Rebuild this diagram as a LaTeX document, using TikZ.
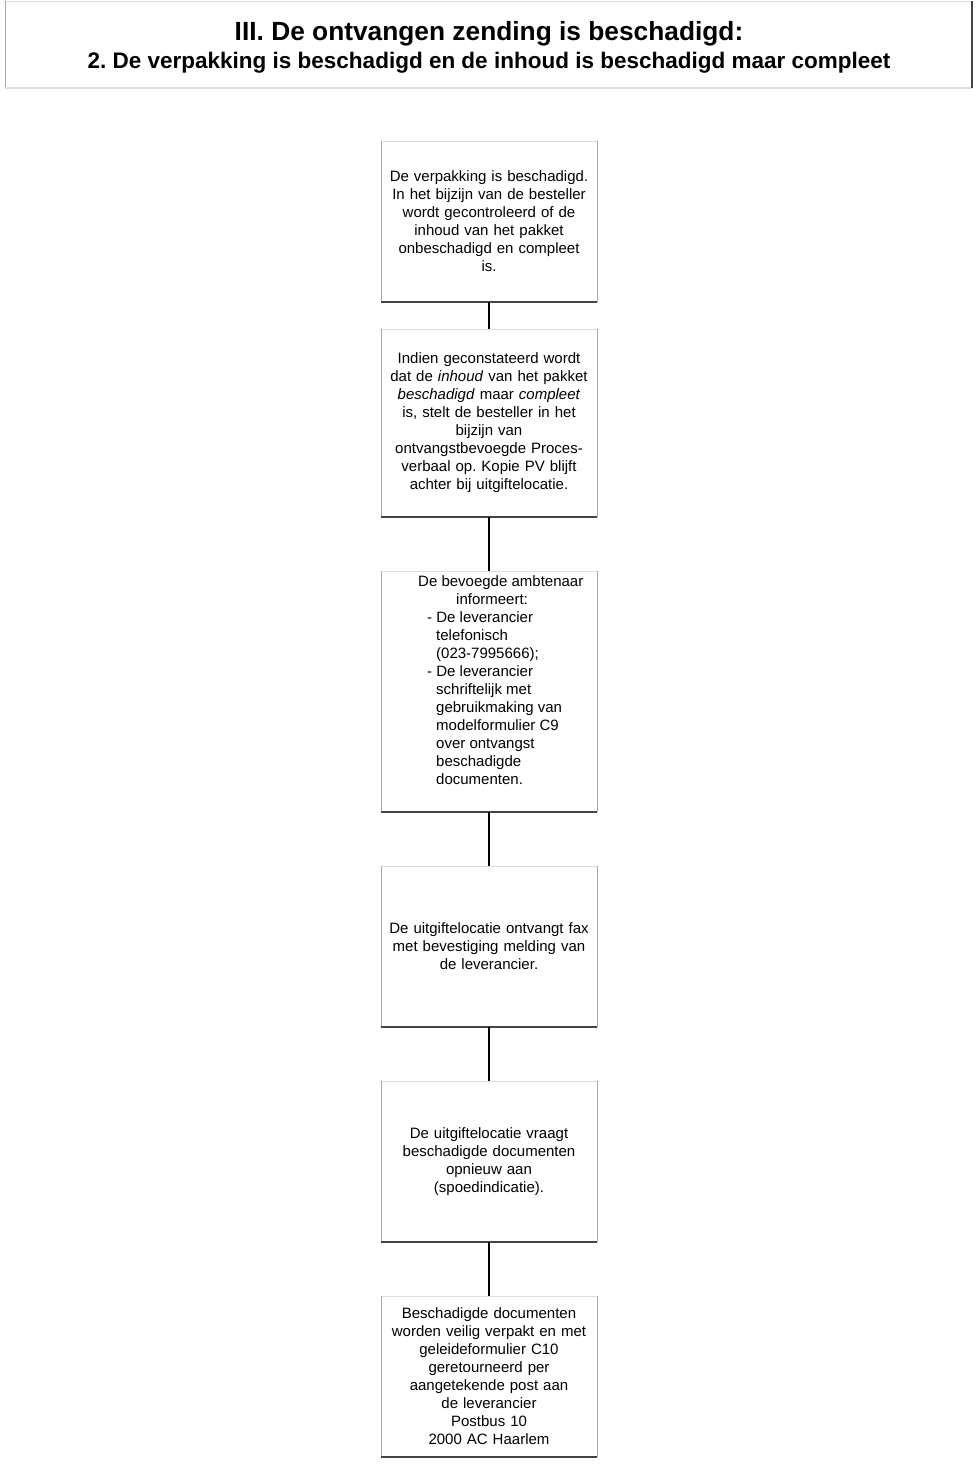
\documentclass[tikz,border=0pt]{standalone}
\usepackage{fontspec}
\setmainfont{Liberation Sans}
\frenchspacing
\definecolor{edgetop}{HTML}{DDDDDD}
\definecolor{edgeside}{HTML}{A8A8A8}
\definecolor{edgebot}{HTML}{444444}
\begin{document}
\begin{tikzpicture}[x=1pt,y=-1pt,
  stepbox/.style={draw=none,minimum width=216pt,inner sep=0pt,outer sep=0pt,
    font=\fontsize{15}{18}\selectfont,align=center,text width=212pt},
  link/.style={draw=black,line width=1.6pt}]
\useasboundingbox (0,0) rectangle (978,1467);
\fill[white] (0,0) rectangle (978,1467);
% header
\node[minimum width=967pt,minimum height=87pt,inner sep=0pt,outer sep=0pt] (head) at (488.5,44.5) {};
\draw[edgetop,line width=1pt] (head.north west) -- (head.north east);
\draw[edgeside,line width=1pt] (head.north west) -- (head.south west);
\draw[edgetop,line width=1.2pt] (head.south west) -- (head.south east);
\draw[edgebot,line width=1.4pt] (head.north east) -- (head.south east);
\node[font=\bfseries\fontsize{26.3}{28}\selectfont,inner sep=0pt] (t1) at (489,34) {III. De ontvangen zending is beschadigd:};
\node[font=\bfseries\fontsize{22.5}{24}\selectfont,inner sep=0pt] (t2) at (489,63) {2. De verpakking is beschadigd en de inhoud is beschadigd maar compleet};
% boxes
\node[stepbox,minimum height=161pt] (b1) at (489,221.5) {De verpakking is beschadigd.\\In het bijzijn van de besteller\\wordt gecontroleerd of de\\inhoud van het pakket\\onbeschadigd en compleet\\is.};
\node[stepbox,minimum height=188pt] (b2) at (489,423) {Indien geconstateerd wordt\\dat de \textit{inhoud} van het pakket\\\textit{beschadigd} maar \textit{compleet}\\is, stelt de besteller in het\\bijzijn van\\ontvangstbevoegde Proces-\\verbaal op. Kopie PV blijft\\achter bij uitgiftelocatie.};
\node[stepbox,minimum height=241pt] (b3) at (489,691.5) {};
\node[inner sep=0pt,anchor=north west,font=\fontsize{15}{18}\selectfont,align=left] (b3t) at (418,575) {De bevoegde ambtenaar\\\hspace*{38pt}informeert:\\\hspace*{9pt}- De leverancier\\\hspace*{18pt}telefonisch\\\hspace*{18pt}(023-7995666);\\\hspace*{9pt}- De leverancier\\\hspace*{18pt}schriftelijk met\\\hspace*{18pt}gebruikmaking van\\\hspace*{18pt}modelformulier C9\\\hspace*{18pt}over ontvangst\\\hspace*{18pt}beschadigde\\\hspace*{18pt}documenten.};
\node[stepbox,minimum height=161pt] (b4) at (489,946.5) {De uitgiftelocatie ontvangt fax\\met bevestiging melding van\\de leverancier.};
\node[stepbox,minimum height=161pt] (b5) at (489,1161.5) {De uitgiftelocatie vraagt\\beschadigde documenten\\opnieuw aan\\(spoedindicatie).};
\node[stepbox,minimum height=161pt] (b6) at (489,1376.5) {Beschadigde documenten\\worden veilig verpakt en met\\geleideformulier C10\\geretourneerd per\\aangetekende post aan\\de leverancier\\Postbus 10\\2000 AC Haarlem};
\foreach \b in {b1,b2,b3,b4,b5,b6}{
  \draw[edgetop,line width=1pt] (\b.north west) -- (\b.north east);
  \draw[edgeside,line width=1pt] (\b.north west) -- (\b.south west);
  \draw[edgeside,line width=1pt] (\b.north east) -- (\b.south east);
  \draw[edgebot,line width=1.4pt] (\b.south west) -- (\b.south east);
}
% connectors
\draw[link] (b1.south) -- (b2.north);
\draw[link] (b2.south) -- (b3.north);
\draw[link] (b3.south) -- (b4.north);
\draw[link] (b4.south) -- (b5.north);
\draw[link] (b5.south) -- (b6.north);
\end{tikzpicture}
\end{document}
